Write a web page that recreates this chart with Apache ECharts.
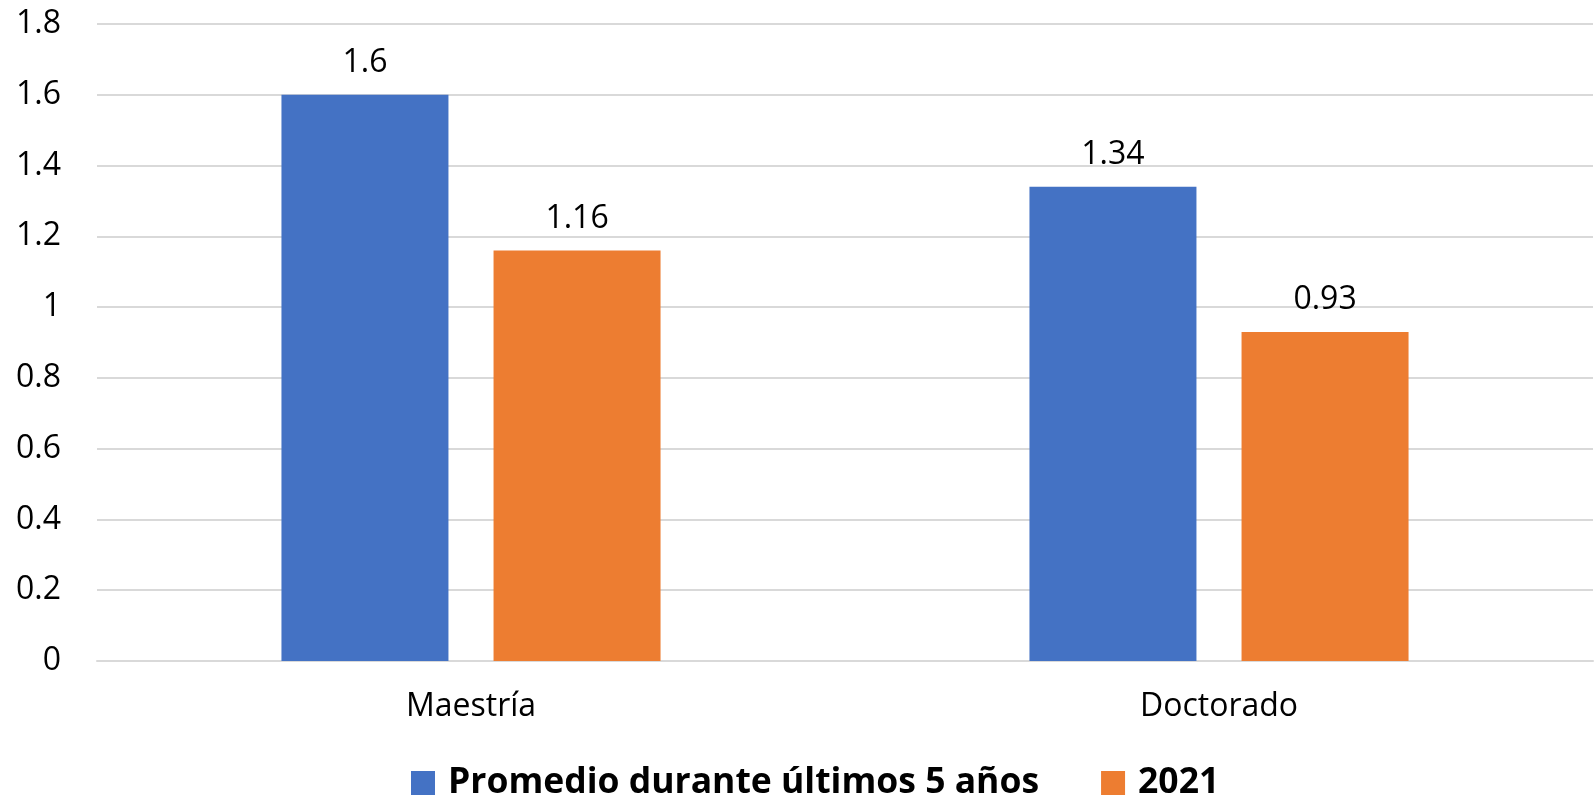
<!DOCTYPE html>
<html>
<head>
<meta charset="utf-8">
<script src="https://cdn.jsdelivr.net/npm/echarts@6/dist/echarts.min.js"></script>
<style>
html,body{margin:0;padding:0;background:#fff;}
#chart{width:1594px;height:797px;}
</style>
</head>
<body>
<div id="chart"></div>
<script>
const categories = ['Maestría', 'Doctorado'];
const seriesNames = ['Promedio durante últimos 5 años', '2021'];
const promedio = [1.6, 1.34];
const anio2021 = [1.16, 0.93];
const colors = ['#4472C4', '#ED7D31'];

const chart = echarts.init(document.getElementById('chart'));
const font = '"Open Sans", "Noto Sans", sans-serif';
const labelStyle = {
  show: true, position: 'top', distance: 16,
  color: '#000', fontFamily: font, fontSize: 32
};
chart.setOption({
  animation: false,
  backgroundColor: '#fff',
  grid: { left: 97, right: 1, top: 24, bottom: 136, containLabel: false },
  legend: {
    data: seriesNames,
    left: 411, top: 765, padding: 0,
    icon: 'rect', itemWidth: 24, itemHeight: 24, itemGap: 62,
    textStyle: { fontFamily: font, fontWeight: 'bold', fontSize: 35.5, color: '#000', padding: [0, 0, 0, 8] }
  },
  xAxis: {
    type: 'category', data: categories,
    axisLine: { show: true, lineStyle: { color: '#D9D9D9', width: 2 } },
    axisTick: { show: false },
    axisLabel: { color: '#000', fontFamily: font, fontSize: 32, margin: 30 }
  },
  yAxis: {
    type: 'value', min: 0, max: 1.8, interval: 0.2,
    axisLine: { show: false }, axisTick: { show: false },
    splitLine: { lineStyle: { color: '#D9D9D9', width: 2 } },
    axisLabel: { color: '#000', fontFamily: font, fontSize: 32, margin: 36,
      formatter: v => String(Math.round(v * 10) / 10) }
  },
  series: [
    { name: seriesNames[0], type: 'bar', data: promedio, itemStyle: { color: colors[0] },
      barWidth: 167, barGap: '27%', label: labelStyle },
    { name: seriesNames[1], type: 'bar', data: anio2021, itemStyle: { color: colors[1] },
      barWidth: 167, barGap: '27%', label: labelStyle }
  ]
});
</script>
</body>
</html>
